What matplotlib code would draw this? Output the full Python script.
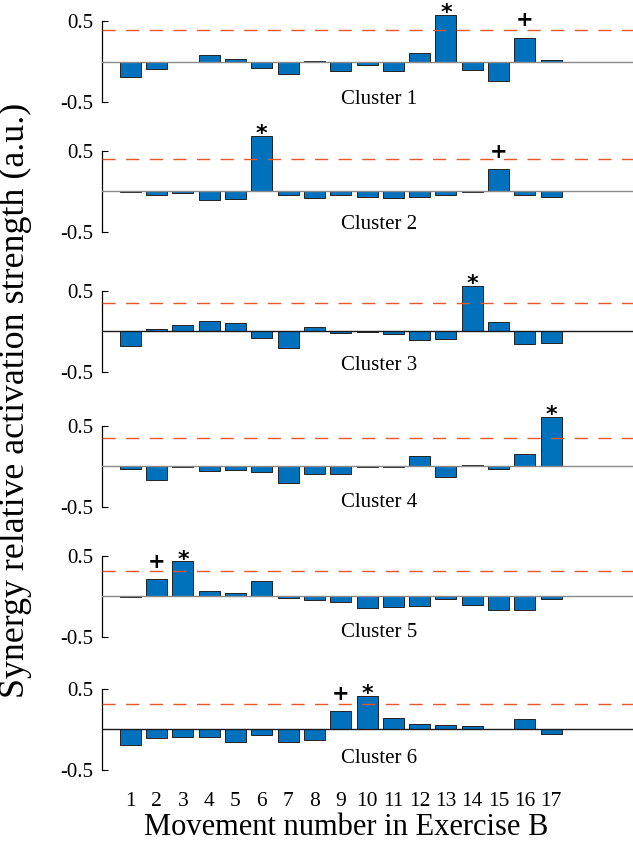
import numpy as np
import matplotlib.pyplot as plt

movements = np.arange(1, 18)

cluster_1 = [-0.196, -0.092, -0.005, 0.083, 0.038, -0.075, -0.15, 0.004, -0.12,
             -0.042, -0.12, 0.104, 0.583, -0.10, -0.237, 0.30, 0.017]
cluster_2 = [-0.004, -0.04, -0.025, -0.11, -0.10, 0.69, -0.05, -0.087, -0.05,
             -0.07, -0.083, -0.075, -0.05, -0.012, 0.28, -0.05, -0.07]
cluster_3 = [-0.186, 0.025, 0.074, 0.124, 0.107, -0.083, -0.207, 0.054, -0.025,
             -0.008, -0.033, -0.107, -0.095, 0.566, 0.116, -0.161, -0.145]
cluster_4 = [-0.037, -0.174, -0.008, -0.062, -0.05, -0.074, -0.207, -0.091, -0.091,
             -0.012, -0.012, 0.124, -0.128, 0.012, -0.029, 0.157, 0.616]
cluster_5 = [-0.008, 0.214, 0.433, 0.067, 0.042, 0.193, -0.025, -0.05, -0.067,
             -0.151, -0.13, -0.126, -0.038, -0.109, -0.176, -0.164, -0.038]
cluster_6 = [-0.20, -0.108, -0.096, -0.096, -0.158, -0.071, -0.163, -0.138, 0.229,
             0.413, 0.1375, 0.0625, 0.054, 0.0375, 0.008, 0.125, -0.058]

clusters = [cluster_1, cluster_2, cluster_3, cluster_4, cluster_5, cluster_6]
thresholds = [0.396, 0.40, 0.355, 0.355, 0.315, 0.32]
star_marks = [[13], [6], [14], [17], [3], [10]]
plus_marks = [[16], [15], [], [], [2], [9]]
cluster_names = ['Cluster %d' % (i + 1) for i in range(6)]

# layout (pixel rows of the zero line for each panel)
W, H = 633, 841
zero_px = [61.7, 191.3, 331.3, 466.3, 596.3, 729.3]
px_per_unit = 80.5
label_base = [-0.53, -0.465, -0.48, -0.50, -0.50, -0.42]
zero_colors = ['#8a8a8a', '#8a8a8a', '#1a1a1a', '#8a8a8a', '#8a8a8a', '#1a1a1a']

serif = 'Liberation Serif'
bar_blue = '#0072BD'
dash_orange = '#E8572A'

fig = plt.figure(figsize=(W / 100, H / 100), dpi=100)

x_left, x_right = -0.076, 20.11
y_lo, y_hi = -0.5, 0.75

for i, vals in enumerate(clusters):
    bottom = zero_px[i] + 0.5 * px_per_unit
    height = (y_hi - y_lo) * px_per_unit
    ax = fig.add_axes([102 / W, 1 - bottom / H, 1 - 102 / W, height / H])
    ax.set_xlim(x_left, x_right)
    ax.set_ylim(y_lo, y_hi)

    ax.bar(movements, vals, width=0.8, color=bar_blue, edgecolor='#222222',
           linewidth=0.7, zorder=3)
    ax.axhline(0, color=zero_colors[i], linewidth=1.0, zorder=4)
    ax.axhline(thresholds[i], color=dash_orange, linewidth=1.0,
               dashes=(9.5, 7.5), zorder=5)

    # significance marks above the bars
    for m in star_marks[i]:
        ax.annotate('*', (m, vals[m - 1]), xytext=(0, -3), textcoords='offset points',
                    ha='center', va='baseline', fontsize=16, fontweight='bold',
                    annotation_clip=False)
    for m in plus_marks[i]:
        ax.annotate('+', (m, vals[m - 1]), xytext=(0, 8), textcoords='offset points',
                    ha='center', va='baseline', fontsize=15, fontweight='bold',
                    annotation_clip=False)

    ax.text(10.45, label_base[i], cluster_names[i], ha='center', va='baseline',
            fontsize=15, family=serif, clip_on=False)

    for s in ['top', 'right', 'bottom']:
        ax.spines[s].set_visible(False)
    ax.spines['left'].set_bounds(-0.5, 0.5)
    ax.spines['left'].set_linewidth(0.9)
    ax.set_yticks([-0.5, 0.5])
    ax.set_yticklabels(['-0.5', '0.5'], family=serif, fontsize=15)
    ax.tick_params(axis='y', direction='in', length=4, pad=6)
    ax.patch.set_visible(False)

    if i == 5:
        ax.set_xticks(movements)
        ax.set_xticklabels([str(m) for m in movements], family=serif, fontsize=15.5)
        ax.tick_params(axis='x', length=0, pad=16.5)
        ax.set_xlabel('Movement number in Exercise B', family=serif, fontsize=22,
                      labelpad=0)
        ax.xaxis.set_label_coords((346.5 - 102) / (W - 102), -0.43)
    else:
        ax.set_xticks([])

fig.text(15 / W, 1 - 400 / H, 'Synergy relative activation strength (a.u.)',
         rotation=90, ha='center', va='center', family=serif, fontsize=25.8)

fig.savefig('out.png', dpi=100)
